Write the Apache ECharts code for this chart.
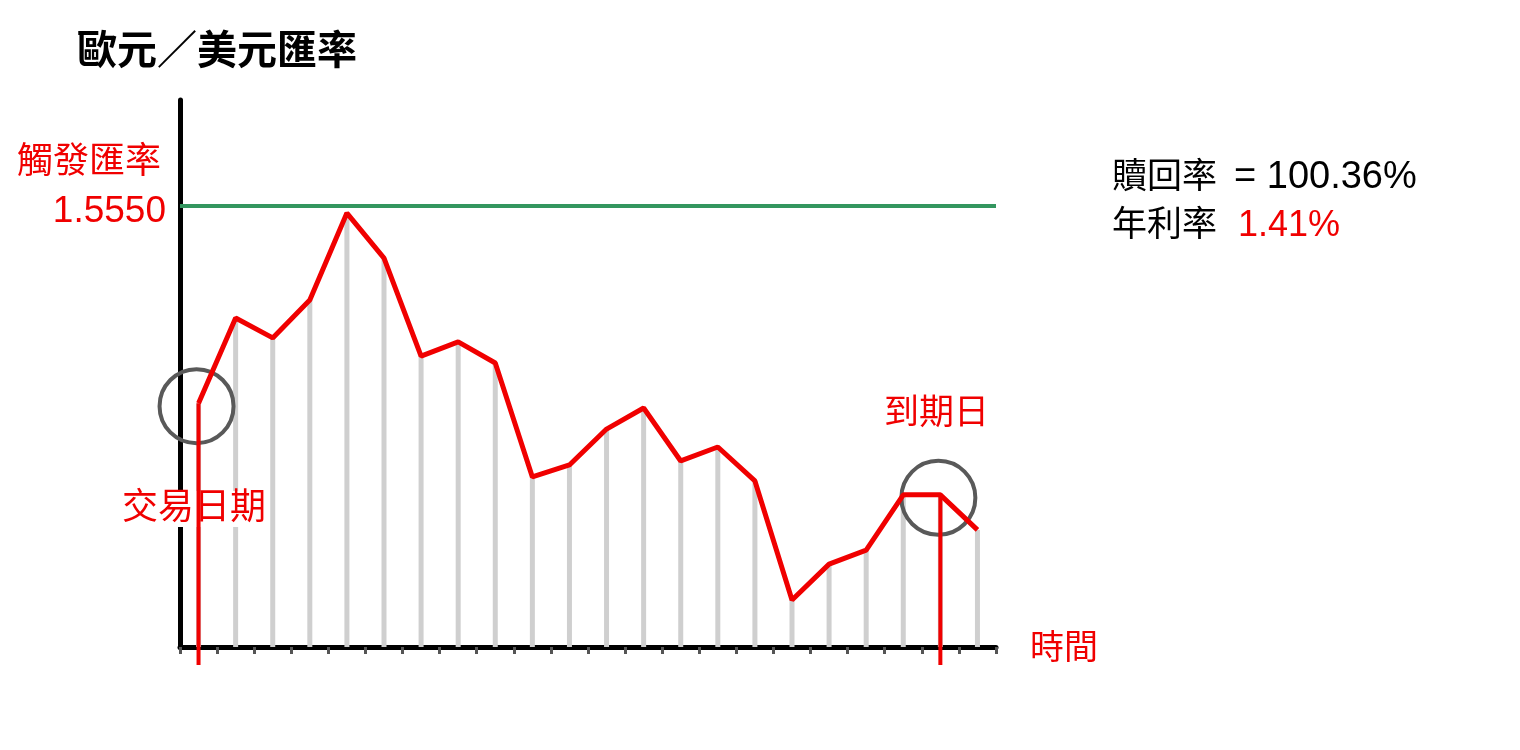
<!DOCTYPE html>
<html lang="zh-Hant" style="height: 100%">
<head>
  <meta charset="utf-8">
</head>
<body style="height: 100%; margin: 0; background-color:#ffffff;">
  <div id="container" style="height: 100%"></div>

<script src="https://cdn.jsdelivr.net/npm/echarts@6/dist/echarts.min.js"></script>

<script>
  var dom = document.getElementById('container');
  var myChart = echarts.init(dom);

  // 每個觀察日的歐元/美元匯率
  var days = ['1', '2', '3', '4', '5', '6', '7', '8', '9', '10', '11',
              '12', '13', '14', '15', '16', '17', '18', '19', '20', '21', '22'];
  var rates = [1.4856, 1.5155, 1.5085, 1.5218, 1.5523, 1.5365, 1.5021, 1.5071, 1.4997, 1.4597, 1.4639,
               1.4765, 1.4839, 1.4653, 1.4702, 1.4583, 1.4165, 1.4291, 1.4340, 1.4534, 1.4534, 1.4411];
  var triggerRate = 1.5550;
  var yMin = 1.40;
  var yMax = 1.592;
  // 交易日期 / 到期日 (category index)
  var keyDays = [0, 20];

  var red = '#f00000';
  var font = "'Liberation Sans', 'Noto Sans CJK TC', sans-serif";

  var keyData = keyDays.map(function (i) { return [i, rates[i]]; });

  var option = {
    animation: false,
    title: {
      text: '歐元／美元匯率',
      left: 72,
      top: 28,
      textStyle: { fontSize: 40, fontWeight: 'bold', color: '#000', fontFamily: font }
    },
    grid: { left: 180, right: 524, top: 100, bottom: 103 },
    xAxis: {
      type: 'category',
      data: days,
      boundaryGap: true,
      axisLine: { lineStyle: { color: '#000', width: 5 } },
      axisTick: { show: true, length: 7, lineStyle: { color: '#555', width: 3 } },
      axisLabel: { show: false },
      splitLine: { show: false }
    },
    yAxis: {
      type: 'value',
      min: yMin,
      max: yMax,
      axisLine: { show: true, lineStyle: { color: '#000', width: 5 } },
      axisTick: { show: false },
      axisLabel: { show: false },
      splitLine: { show: false }
    },
    series: [
      {
        type: 'bar',
        data: rates,
        barWidth: 5,
        z: 1,
        itemStyle: { color: '#cfcfcf' }
      },
      {
        type: 'line',
        data: rates,
        symbol: 'none',
        z: 5,
        lineStyle: { color: red, width: 5 },
        markLine: {
          silent: true,
          symbol: 'none',
          precision: 4,
          label: { show: false },
          lineStyle: { color: '#33965f', width: 4, type: 'solid' },
          data: [{ yAxis: triggerRate }]
        }
      },
      {
        // 圈出交易日期與到期日
        type: 'custom',
        data: keyData,
        clip: false,
        z: 4,
        renderItem: function (params, api) {
          var p = api.coord([api.value(0), api.value(1)]);
          return {
            type: 'circle',
            shape: { cx: p[0] - 2, cy: p[1] + 3, r: 37 },
            style: { fill: 'none', stroke: '#595959', lineWidth: 4 }
          };
        }
      },
      {
        // 紅色垂直線
        type: 'custom',
        data: keyData,
        clip: false,
        z: 6,
        renderItem: function (params, api) {
          var p = api.coord([api.value(0), api.value(1)]);
          var base = api.coord([api.value(0), yMin]);
          return {
            type: 'line',
            shape: { x1: p[0], y1: p[1], x2: p[0], y2: base[1] + 18 },
            style: { stroke: red, lineWidth: 4 }
          };
        }
      }
    ],
    graphic: [
      {
        type: 'text', left: 17, top: 145, z: 10,
        style: { text: '觸發匯率', fill: red, fontSize: 36, fontFamily: font }
      },
      {
        type: 'text', right: 1520 - 166, top: 193, z: 10,
        style: { text: triggerRate.toFixed(4), fill: red, fontSize: 37, fontFamily: font }
      },
      {
        type: 'text', left: 119, top: 491, z: 3,
        style: {
          text: '交易日期', fill: red, fontSize: 36, fontFamily: font,
          backgroundColor: '#fff', padding: [0, 3, 0, 3]
        }
      },
      {
        type: 'text', left: 884, top: 397, z: 10,
        style: { text: '到期日', fill: red, fontSize: 35, fontFamily: font }
      },
      {
        type: 'text', left: 1030, top: 633, z: 10,
        style: { text: '時間', fill: red, fontSize: 34, fontFamily: font }
      },
      {
        type: 'text', left: 1112, top: 159, z: 10,
        style: {
          text: '{k|贖回率}{v|= 100.36%}',
          rich: {
            k: { fontSize: 35, fill: '#000', fontFamily: font, padding: [0, 17, 0, 0] },
            v: { fontSize: 38, fill: '#000', fontFamily: font }
          }
        }
      },
      {
        type: 'text', left: 1112, top: 208, z: 10,
        style: {
          text: '{k|年利率}{r|1.41%}',
          rich: {
            k: { fontSize: 35, fill: '#000', fontFamily: font, padding: [0, 21, 0, 0] },
            r: { fontSize: 36, fill: red, fontFamily: font }
          }
        }
      }
    ]
  };

  myChart.setOption(option);

  window.addEventListener('resize', myChart.resize);
</script>

</body>
</html>
